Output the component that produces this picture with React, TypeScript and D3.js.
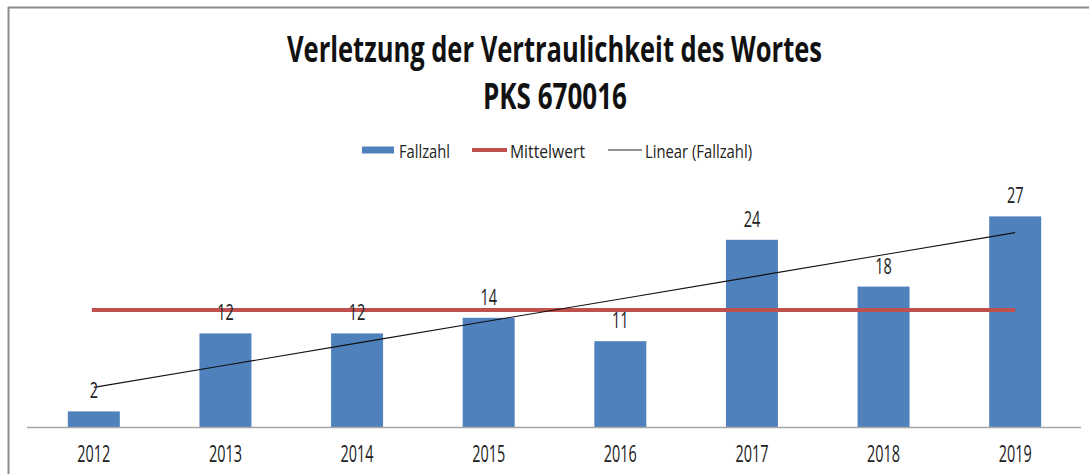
import React from "react";
import * as d3 from "d3";

const categories = ["2012", "2013", "2014", "2015", "2016", "2017", "2018", "2019"];
const fallzahl = [2, 12, 12, 14, 11, 24, 18, 27];
const titleLines = ["Verletzung der Vertraulichkeit des Wortes", "PKS 670016"];
const legendLabels = ["Fallzahl", "Mittelwert", "Linear (Fallzahl)"];

const W = 1089;
const H = 474;
const FONT = "'Open Sans', 'Noto Sans', sans-serif";

function T(props: {
  x: number; y: number; size: number; len?: number; anchor?: string; weight?: number | string; fill?: string; children: string;
}) {
  const { x, y, size, len, anchor = "middle", weight = 400, fill = "#222", children } = props;
  return (
    <text
      x={x}
      y={y}
      fontSize={size}
      fontFamily={FONT}
      fontWeight={weight}
      textAnchor={anchor}
      fill={fill}
      textLength={len}
      lengthAdjust={len ? "spacingAndGlyphs" : undefined}
    >
      {children}
    </text>
  );
}

export default function App() {
  const x = d3.scaleBand<string>().domain(categories).range([28, 1081]).paddingInner(0).paddingOuter(0);
  const y = d3.scaleLinear().domain([0, 30]).range([427, 193]);
  const bw = x.bandwidth() * 0.395;
  const cx = (c: string) => (x(c) as number) + x.bandwidth() / 2;

  const mean = d3.mean(fallzahl) as number;
  const xs = fallzahl.map((_, i) => i + 1);
  const mx = d3.mean(xs) as number;
  const slope =
    d3.sum(xs.map((xi, i) => (xi - mx) * (fallzahl[i] - mean))) / d3.sum(xs.map((xi) => (xi - mx) ** 2));
  const intercept = mean - slope * mx;
  const trend = xs.map((xi) => intercept + slope * xi);

  const line = d3
    .line<number>()
    .x((_, i) => cx(categories[i]))
    .y((d) => y(d));

  const digitLen = (s: string) => s.length * 8.3;

  return (
    <svg width={W} height={H} style={{ position: "absolute", left: 0, top: 0, background: "#fff" }}>
      <rect x={0} y={0} width={W} height={H} fill="#fff" />
      {/* frame */}
      <line x1={8} y1={7.5} x2={W} y2={7.5} stroke="#8a8a8a" strokeWidth={2} />
      <line x1={8.5} y1={7} x2={8.5} y2={H} stroke="#8a8a8a" strokeWidth={2} />

      {/* title */}
      <T x={554.5} y={62} size={35} len={535} weight={700} fill="#111">{titleLines[0]}</T>
      <T x={555} y={109} size={35} len={144} weight={700} fill="#111">{titleLines[1]}</T>

      {/* legend */}
      <rect x={362} y={146.5} width={32} height={7} fill="#4F81BD" />
      <T x={399} y={158} size={19} len={51} anchor="start">{legendLabels[0]}</T>
      <line x1={472} y1={150} x2={507} y2={150} stroke="#C0504D" strokeWidth={4} />
      <T x={510} y={158} size={19} len={75} anchor="start">{legendLabels[1]}</T>
      <line x1={608} y1={150} x2={642} y2={150} stroke="#222" strokeWidth={1} />
      <T x={645} y={158} size={19} len={107} anchor="start">{legendLabels[2]}</T>

      {/* bars */}
      {fallzahl.map((v, i) => (
        <rect
          key={categories[i]}
          x={cx(categories[i]) - bw / 2}
          y={y(v)}
          width={bw}
          height={y(0) - y(v)}
          fill="#4F81BD"
        />
      ))}

      {/* axis */}
      <line x1={27} y1={427.5} x2={1081} y2={427.5} stroke="#a6a6a6" strokeWidth={1.5} />
      {categories.map((c) => (
        <T key={c} x={cx(c)} y={462} size={23} len={33} fill="#222">{c}</T>
      ))}

      {/* mean line */}
      <line
        x1={cx(categories[0]) - 2}
        y1={y(mean)}
        x2={cx(categories[categories.length - 1])}
        y2={y(mean)}
        stroke="#C0504D"
        strokeWidth={4}
      />

      {/* trend line */}
      <path d={line(trend) as string} fill="none" stroke="#111" strokeWidth={1.1} />

      {/* data labels */}
      {fallzahl.map((v, i) => (
        <T key={"l" + i} x={cx(categories[i])} y={y(v) - 13} size={21} len={digitLen(String(v))} fill="#222">
          {String(v)}
        </T>
      ))}
    </svg>
  );
}
